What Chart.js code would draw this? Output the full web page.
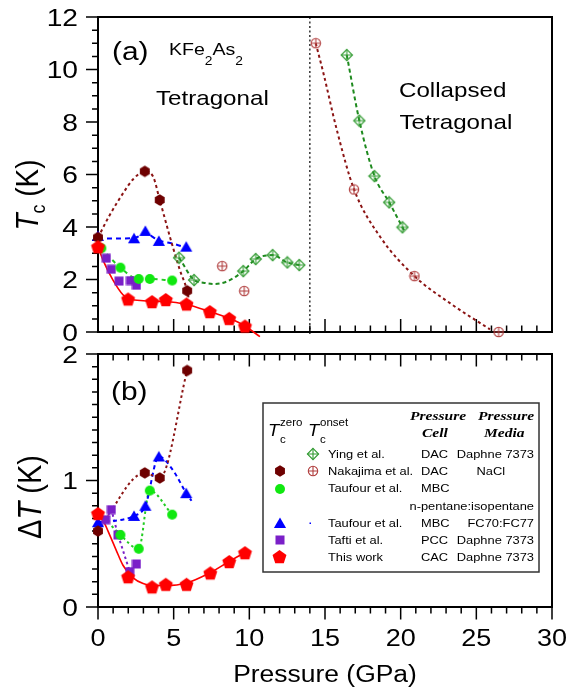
<!DOCTYPE html>
<html><head><meta charset="utf-8">
<script src="https://cdn.jsdelivr.net/npm/chart.js@4.4.1/dist/chart.umd.min.js"></script>
<style>
html,body{margin:0;padding:0;background:#fff;}
#wrap{position:relative;width:567px;height:689px;background:#fff;}
canvas{position:absolute;left:0;}
</style></head><body>
<div id="wrap">
<canvas id="top" width="567" height="345" style="top:0px;width:567px;height:345px"></canvas>
<canvas id="bot" width="567" height="344" style="top:345px;width:567px;height:344px"></canvas>
</div>
<script>
// ---------------- data ----------------
const xTicks = [0, 5, 10, 15, 20, 25, 30];
const tcTicks = [0, 2, 4, 6, 8, 10, 12];
const dtTicks = [0, 1, 2];

// This work (CAC, Daphne 7373) – red pentagons
const workP  = [0, 1.99, 3.57, 4.48, 5.85, 7.39, 8.67, 9.71];
const workTc = [3.25, 1.26, 1.16, 1.24, 1.07, 0.78, 0.52, 0.23];
const workPb = [0, 1.99, 3.57, 4.48, 5.85, 7.42, 8.67, 9.71];
const workDT = [0.74, 0.24, 0.16, 0.18, 0.18, 0.27, 0.36, 0.43];
const workFitP  = [0, 0.33, 0.99, 1.65, 1.99, 2.8, 3.57, 4.48, 5.85, 7.39, 8.67, 9.71, 10.7];
const workFitTc = [3.25, 2.74, 1.98, 1.42, 1.27, 1.2, 1.17, 1.16, 1.05, 0.78, 0.52, 0.23, -0.18];
const workFitPb = [0, 0.35, 0.77, 1.2, 1.65, 2.32, 2.98, 3.57, 4.48, 5.85, 7.39, 8.67, 9.71];
const workFitDT = [0.74, 0.68, 0.57, 0.45, 0.33, 0.23, 0.185, 0.17, 0.17, 0.19, 0.27, 0.36, 0.43];

// Nakajima et al. – Tc zero (hexagons) and onset (circled plus)
const nakP  = [0, 3.09, 4.08, 5.89];
const nakTc = [3.6, 6.12, 5.03, 1.57];
const nakDT = [0.6, 1.06, 1.02, 1.87];
const nakFitP  = [0, 0.77, 1.65, 2.32, 3.09, 3.64, 4.08, 4.75, 5.41, 5.89, 6.07];
const nakFitTc = [3.6, 4.45, 5.28, 5.82, 6.12, 5.92, 5.03, 3.63, 2.36, 1.57, 1.03];
const nakOnP  = [8.21, 9.66, 14.39, 16.92, 20.91, 26.47];
const nakOnTc = [2.51, 1.56, 11.0, 5.43, 2.13, 0.0];
const nakOnFitP  = [14.39, 14.9, 15.78, 16.92, 18.64, 20.91, 23.28, 25.9];
const nakOnFitTc = [11.0, 9.85, 7.7, 5.43, 3.63, 2.13, 1.09, 0.1];

// Taufour et al. MBC FC70:FC77 – blue triangles
const taufBP  = [0, 2.38, 3.13, 4.02, 5.83];
const taufBTc = [3.66, 3.57, 3.85, 3.47, 3.25];
const taufBDT = [0.67, 0.72, 0.80, 1.19, 0.90];
const taufBFitP  = [0, 1.2, 2.38, 3.13, 4.02, 5.0, 5.9];
const taufBFitTc = [3.57, 3.56, 3.58, 3.74, 3.49, 3.36, 3.2];
const taufBFitPb = [0, 2.38, 3.13, 4.02, 4.96, 5.83, 6.18];
const taufBFitDT = [0.67, 0.72, 0.80, 1.19, 1.08, 0.90, 0.84];

// Taufour et al. MBC n-pentane:isopentane – green circles
const taufGP  = [0.22, 1.48, 2.69, 3.42, 4.9];
const taufGTc = [3.19, 2.45, 2.02, 2.02, 1.96];
const taufGPb = [1.48, 2.69, 3.42, 4.9];
const taufGDT = [0.57, 0.46, 0.92, 0.73];
const taufGFitPb = [0.9, 1.48, 2.69, 3.42, 4.9];
const taufGFitDT = [0.64, 0.57, 0.46, 0.92, 0.73];

// Tafti et al. PCC – purple squares
const taftiP  = [0.55, 0.88, 1.39, 2.14, 2.54];
const taftiTc = [2.81, 2.39, 1.94, 1.96, 1.78];
const taftiPb = [0.51, 0.88, 1.32, 2.1, 2.54];
const taftiDT = [0.69, 0.77, 0.57, 0.28, 0.34];

// Ying et al. DAC – open diamonds (onset)
const yingP  = [5.36, 6.35, 9.6, 10.42, 11.54, 12.51, 13.3, 16.44, 17.27, 18.27, 19.24, 20.12];
const yingTc = [2.83, 1.98, 2.32, 2.78, 2.93, 2.65, 2.55, 10.55, 8.05, 5.94, 4.94, 3.99];
const yingFitLowP  = [5.36, 6.35, 6.95, 7.72, 8.5, 9.6, 10.42, 11.54, 12.51, 13.3];
const yingFitLowTc = [2.83, 1.98, 1.88, 1.83, 1.92, 2.32, 2.78, 2.93, 2.65, 2.55];
const yingFitHighP  = [16.44, 17.27, 18.27, 19.24, 20.12, 20.3];
const yingFitHighTc = [10.55, 8.05, 5.94, 4.94, 3.99, 3.8];

const boundaryP = 14;

const legendNames = ['Ying et al.', 'Nakajima et al.', 'Taufour et al.', '', 'Taufour et al.', 'Tafti et al.', 'This work'];
const legendCells = ['DAC', 'DAC', 'MBC', '', 'MBC', 'PCC', 'CAC'];
const legendMedia = ['Daphne 7373', 'NaCl', '', 'n-pentane:isopentane', 'FC70:FC77', 'Daphne 7373', 'Daphne 7373'];

// ---------------- helpers ----------------
const S = 1.15;
const SANS = '"Liberation Sans", Arial, Helvetica, sans-serif';
const SERIF = '"Liberation Serif", "Times New Roman", serif';
const pts = (xs, ys) => xs.map((v, i) => ({x: v, y: ys[i]}));

const C = {
  red: '#ff0000', maroon: '#6e0000', maroonLine: '#8b1414', onset: '#b03c3c',
  blue: '#0000ff', lime: '#10e810', limeLine: '#22cc22', purple: '#7a1fc8',
  ying: '#2f9a2f', yingLine: '#1e8a1e'
};

function mk(size, draw) {
  const c = document.createElement('canvas');
  c.width = size; c.height = size;
  const g = c.getContext('2d');
  draw(g, size / 2);
  return c;
}
function poly(g, cx, cy, R, n, rot) {
  g.beginPath();
  for (let k = 0; k < n; k++) {
    const a = rot + k * 2 * Math.PI / n;
    const px = cx + R * Math.cos(a), py = cy + R * Math.sin(a);
    k ? g.lineTo(px, py) : g.moveTo(px, py);
  }
  g.closePath();
}
const M = {
  pentagon: mk(17, (g, m) => { poly(g, m, m + 0.8, 7.3, 5, -Math.PI / 2); g.fillStyle = C.red; g.fill(); }),
  hexagon: mk(14, (g, m) => { poly(g, m, m, 5.7, 6, -Math.PI / 2); g.fillStyle = C.maroon; g.fill(); }),
  triangle: mk(14, (g, m) => { g.beginPath(); g.moveTo(m, m - 5.4); g.lineTo(m + 6.1, m + 5); g.lineTo(m - 6.1, m + 5); g.closePath(); g.fillStyle = C.blue; g.fill(); }),
  circle: mk(12, (g, m) => { g.beginPath(); g.arc(m, m, 5, 0, 2 * Math.PI); g.fillStyle = C.lime; g.fill(); }),
  square: mk(10, (g, m) => { g.fillStyle = C.purple; g.fillRect(m - 4.5, m - 4.5, 9, 9); }),
  diamond: mk(14, (g, m) => {
    g.strokeStyle = C.ying; g.lineWidth = 1.1;
    g.beginPath(); g.moveTo(m, m - 5.6); g.lineTo(m + 5.6, m); g.lineTo(m, m + 5.6); g.lineTo(m - 5.6, m); g.closePath(); g.stroke();
    g.beginPath(); g.moveTo(m, m - 5.6); g.lineTo(m, m + 5.6); g.moveTo(m - 5.6, m); g.lineTo(m + 5.6, m); g.stroke();
  }),
  cplus: mk(12, (g, m) => {
    g.strokeStyle = C.onset; g.lineWidth = 1.1;
    g.beginPath(); g.arc(m, m, 4.7, 0, 2 * Math.PI); g.stroke();
    g.beginPath(); g.moveTo(m, m - 4.7); g.lineTo(m, m + 4.7); g.moveTo(m - 4.7, m); g.lineTo(m + 4.7, m); g.stroke();
  })
};

function scatterDs(data, style) {
  return {data, pointStyle: style, pointRadius: 6, showLine: false, clip: false};
}
function lineDs(data, color, width, dash) {
  return {data, showLine: true, pointRadius: 0, borderColor: color, borderWidth: width,
          borderDash: dash || [], cubicInterpolationMode: 'monotone', fill: false, clip: false};
}

function drawSeq(ctx, parts, x, y, o) {
  o = o || {};
  const sx = o.sx == null ? S : o.sx, sy = o.sy == null ? 1 : o.sy;
  ctx.save(); ctx.translate(x, y); if (o.rot) ctx.rotate(o.rot); ctx.scale(sx, sy);
  ctx.fillStyle = '#000'; ctx.textBaseline = 'alphabetic'; ctx.textAlign = 'left';
  let W = 0;
  for (const p of parts) { ctx.font = p.f; W += ctx.measureText(p.t).width; }
  let cx = o.align === 'center' ? -W / 2 : o.align === 'right' ? -W : 0;
  for (const p of parts) { ctx.font = p.f; ctx.fillText(p.t, cx, p.dy || 0); cx += ctx.measureText(p.t).width; }
  ctx.restore();
}
const f = (sz, st) => (st ? st + ' ' : '') + sz + 'px ' + SANS;

function baseOpts(padding, ymax) {
  return {
    responsive: false, animation: false, devicePixelRatio: 1,
    layout: {padding},
    plugins: {legend: {display: false}, tooltip: {enabled: false}},
    scales: {
      x: {type: 'linear', min: 0, max: 30, display: false},
      y: {type: 'linear', min: 0, max: ymax, display: false}
    }
  };
}

// ---------------- top panel ----------------
const topPlugin = {
  id: 'topFrame',
  beforeDatasetsDraw(chart) {
    const {ctx, chartArea: a, scales: {x, y}} = chart;
    ctx.save();
    ctx.strokeStyle = '#000'; ctx.lineWidth = 2;
    ctx.strokeRect(a.left, a.top, a.right - a.left, a.bottom - a.top);
    ctx.lineWidth = 1.5; ctx.beginPath();
    for (let v = 0; v <= 30; v++) {
      const px = x.getPixelForValue(v), L = v % 5 === 0 ? 13 : 6.5;
      ctx.moveTo(px, a.bottom); ctx.lineTo(px, a.bottom - L);
    }
    for (let k = 0; k <= 24; k++) {
      const py = y.getPixelForValue(k * 0.5), L = k % 4 === 0 ? 12 : 6;
      ctx.moveTo(a.left, py); ctx.lineTo(a.left - L, py);
    }
    ctx.stroke();
    const bx = x.getPixelForValue(boundaryP);
    ctx.lineWidth = 1.2; ctx.setLineDash([2, 2.5]);
    ctx.beginPath(); ctx.moveTo(bx, a.top); ctx.lineTo(bx, a.bottom + 3); ctx.stroke();
    ctx.restore();
  },
  afterDraw(chart) {
    const {ctx, scales: {y}} = chart;
    for (const v of tcTicks) drawSeq(ctx, [{t: String(v), f: f(24.5)}], 78, y.getPixelForValue(v) + 8.6, {align: 'right'});
    drawSeq(ctx, [{t: 'T', f: f(28, 'italic')}, {t: 'c', f: f(18), dy: 6}, {t: ' (K)', f: f(28)}], 38, 195,
            {rot: -Math.PI / 2, sx: 1, sy: S, align: 'center'});
    drawSeq(ctx, [{t: '(a)', f: f(26)}], 112, 59.5);
    drawSeq(ctx, [{t: 'KFe', f: f(17)}, {t: '2', f: f(12), dy: 10}, {t: 'As', f: f(17)}, {t: '2', f: f(12), dy: 10}], 169, 55);
    drawSeq(ctx, [{t: 'Tetragonal', f: f(21)}], 156, 104.5);
    drawSeq(ctx, [{t: 'Collapsed', f: f(21)}], 399, 97);
    drawSeq(ctx, [{t: 'Tetragonal', f: f(21)}], 399.5, 128.5);
  }
};

new Chart(document.getElementById('top'), {
  type: 'scatter',
  data: {datasets: [
    scatterDs(pts(workP, workTc), M.pentagon),
    scatterDs(pts(nakP, nakTc), M.hexagon),
    scatterDs(pts(taufBP, taufBTc), M.triangle),
    scatterDs(pts(taufGP, taufGTc), M.circle),
    scatterDs(pts(taftiP, taftiTc), M.square),
    scatterDs(pts(yingP, yingTc), M.diamond),
    scatterDs(pts(nakOnP, nakOnTc), M.cplus),
    lineDs(pts(workFitP, workFitTc), C.red, 1.6),
    lineDs(pts(nakFitP, nakFitTc), C.maroonLine, 2, [3, 3]),
    lineDs(pts(taufBFitP, taufBFitTc), C.blue, 2, [5, 4]),
    lineDs(pts(taufGP, taufGTc), C.limeLine, 2, [4, 4]),
    lineDs(pts(yingFitLowP, yingFitLowTc), C.yingLine, 2, [4, 3]),
    lineDs(pts(yingFitHighP, yingFitHighTc), C.yingLine, 2, [4, 3]),
    lineDs(pts(nakOnFitP, nakOnFitTc), C.maroonLine, 2, [3, 3])
  ]},
  options: baseOpts({left: 98, right: 15, top: 17, bottom: 13}, 12),
  plugins: [topPlugin]
});

// ---------------- bottom panel ----------------
const botPlugin = {
  id: 'botFrame',
  beforeDatasetsDraw(chart) {
    const {ctx, chartArea: a, scales: {x, y}} = chart;
    ctx.save();
    ctx.strokeStyle = '#000'; ctx.lineWidth = 2;
    ctx.strokeRect(a.left, a.top, a.right - a.left, a.bottom - a.top);
    ctx.lineWidth = 1.5; ctx.beginPath();
    for (let v = 0; v <= 30; v++) {
      const px = x.getPixelForValue(v), L = v % 5 === 0 ? 12.5 : 6.5;
      ctx.moveTo(px, a.top); ctx.lineTo(px, a.top + L);
      ctx.moveTo(px, a.bottom); ctx.lineTo(px, a.bottom + L);
    }
    for (let k = 0; k <= 20; k++) {
      const py = y.getPixelForValue(k * 0.1), L = k % 10 === 0 ? 12 : 6;
      ctx.moveTo(a.left, py); ctx.lineTo(a.left - L, py);
    }
    ctx.stroke();
    ctx.restore();
  },
  afterDraw(chart) {
    const {ctx, chartArea: a, scales: {x, y}} = chart;
    for (const v of dtTicks) drawSeq(ctx, [{t: String(v), f: f(24.5)}], 78, y.getPixelForValue(v) + 8.6, {align: 'right'});
    for (const v of xTicks) drawSeq(ctx, [{t: String(v), f: f(23.5)}], x.getPixelForValue(v), a.bottom + 38.5, {align: 'center'});
    drawSeq(ctx, [{t: 'Pressure (GPa)', f: f(23)}], (a.left + a.right) / 2, 681.5 - 345, {align: 'center'});
    drawSeq(ctx, [{t: '\u0394', f: f(29)}, {t: 'T', f: f(29, 'italic')}, {t: ' (K)', f: f(29)}], 41, 497 - 345,
            {rot: -Math.PI / 2, sx: 1, sy: S, align: 'center'});
    drawSeq(ctx, [{t: '(b)', f: f(26)}], 111, 400 - 345);

    // legend (image coordinates)
    ctx.save(); ctx.translate(0, -345);
    ctx.strokeStyle = '#333'; ctx.lineWidth = 1.5;
    ctx.strokeRect(263, 403, 276, 169);
    drawSeq(ctx, [{t: 'T', f: f(16, 'italic')}], 268, 436);
    drawSeq(ctx, [{t: 'zero', f: f(10)}], 280, 426);
    drawSeq(ctx, [{t: 'c', f: f(10)}], 280, 443);
    drawSeq(ctx, [{t: 'T', f: f(16, 'italic')}], 308, 436);
    drawSeq(ctx, [{t: 'onset', f: f(10)}], 320, 426);
    drawSeq(ctx, [{t: 'c', f: f(10)}], 320, 443);
    const hf = 'italic bold 13.5px ' + SERIF;
    drawSeq(ctx, [{t: 'Pressure', f: hf}], 410, 419.5);
    drawSeq(ctx, [{t: 'Cell', f: hf}], 422, 436.5);
    drawSeq(ctx, [{t: 'Pressure', f: hf}], 478, 419.5);
    drawSeq(ctx, [{t: 'Media', f: hf}], 484, 436.5);
    const rowY = [457.5, 474.8, 492.3, 510, 527.3, 544, 560.8];
    const lf = f(11.2);
    for (let i = 0; i < legendNames.length; i++) {
      if (legendNames[i]) drawSeq(ctx, [{t: legendNames[i], f: lf}], 328, rowY[i]);
      if (legendCells[i]) drawSeq(ctx, [{t: legendCells[i], f: lf}], 421, rowY[i]);
      if (legendMedia[i]) {
        if (legendMedia[i] === 'NaCl') drawSeq(ctx, [{t: legendMedia[i], f: lf}], 476.5, rowY[i]);
        else drawSeq(ctx, [{t: legendMedia[i], f: lf}], 534, rowY[i], {align: 'right'});
      }
    }
    const put = (m, cx, cy) => ctx.drawImage(m, Math.round(cx - m.width / 2), Math.round(cy - m.height / 2));
    put(M.diamond, 312.5, 453.5);
    put(M.hexagon, 279.5, 471);
    put(M.cplus, 312.5, 471);
    put(M.circle, 279.5, 488.5);
    put(M.triangle, 279.5, 523);
    put(M.square, 279.5, 540);
    put(M.pentagon, 279.5, 556.5);
    ctx.fillStyle = C.blue; ctx.fillRect(309.5, 522.5, 1.5, 1.5);
    ctx.restore();
  }
};

new Chart(document.getElementById('bot'), {
  type: 'scatter',
  data: {datasets: [
    scatterDs(pts(workPb, workDT), M.pentagon),
    scatterDs(pts(nakP, nakDT), M.hexagon),
    scatterDs(pts(taufBP, taufBDT), M.triangle),
    scatterDs(pts(taufGPb, taufGDT), M.circle),
    scatterDs(pts(taftiPb, taftiDT), M.square),
    lineDs(pts(workFitPb, workFitDT), C.red, 1.6),
    lineDs(pts(nakP, nakDT), C.maroonLine, 2, [2.5, 3]),
    lineDs(pts(taufBFitPb, taufBFitDT), C.blue, 2, [4, 3.5]),
    lineDs(pts(taufGFitPb, taufGFitDT), C.limeLine, 2, [2.5, 3]),
    {...lineDs(pts(taftiPb, taftiDT), C.purple, 2, [2.5, 3]), cubicInterpolationMode: 'default', tension: 0}
  ]},
  options: baseOpts({left: 98, right: 15, top: 9, bottom: 82}, 2),
  plugins: [botPlugin]
});
</script>
</body></html>
